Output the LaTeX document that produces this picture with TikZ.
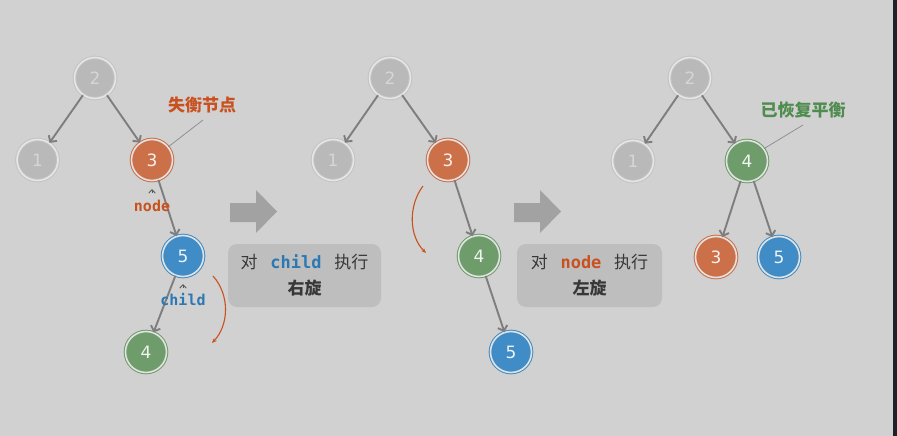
\documentclass[tikz,border=0pt]{standalone}
\usepackage{fontspec}
\setmainfont{DejaVu Sans}
\setmonofont{DejaVu Sans Mono}
\newfontfamily\cjk{Noto Sans CJK SC}
\usetikzlibrary{arrows.meta}
\definecolor{bg}{HTML}{D1D1D1}
\definecolor{darkstrip}{HTML}{1E2228}
\definecolor{ngray}{HTML}{B9B9B9}
\definecolor{ngrayt}{HTML}{D6D6D6}
\definecolor{norange}{HTML}{CC7049}
\definecolor{nblue}{HTML}{3F8CC6}
\definecolor{ngreen}{HTML}{6E9C6B}
\definecolor{ringc}{HTML}{E2E2E2}
\definecolor{edgec}{HTML}{7E7E7E}
\definecolor{torange}{HTML}{C9511F}
\definecolor{tblue}{HTML}{2B78B3}
\definecolor{tgreen}{HTML}{4F8C4F}
\definecolor{boxc}{HTML}{BEBEBE}
\definecolor{bigarrow}{HTML}{A2A2A2}
\definecolor{boxtext}{HTML}{383838}
\definecolor{callc}{HTML}{8A8A8A}
\tikzset{
  tn/.style={circle, minimum size=41pt, inner sep=0pt, line width=1pt,
    double distance=1.6pt, font=\fontsize{17}{17}\selectfont},
  gn/.style={tn, fill=ngray, draw=ngray!85!white, double=ngray!35!white, text=ngrayt},
  on/.style={tn, fill=norange, draw=norange, double=ringc, text=white!90!norange},
  bn/.style={tn, fill=nblue, draw=nblue, double=ringc, text=white!90!nblue},
  gr/.style={tn, fill=ngreen, draw=ngreen, double=ringc, text=white!90!ngreen},
  edge/.style={draw=edgec, line width=1.9pt, -{Straight Barb[length=4.5pt,width=10pt,line width=1.9pt]}},
  caret/.style={draw=edgec!70!black, line width=0.9pt, -{Straight Barb[length=3.5pt,width=6.5pt]}},
  callout/.style={draw=callc, line width=0.7pt},
  rot/.style={draw=torange, line width=1.1pt, -{Stealth[length=5pt,width=4pt]}},
  ptr/.style={font=\ttfamily\bfseries\fontsize{15}{15}\selectfont},
  bigarr/.style={fill=bigarrow},
  opbox/.style={fill=boxc, rounded corners=9pt, minimum width=153pt, minimum height=63pt,
    inner sep=0pt, align=center, text=boxtext, font=\cjk\fontsize{17}{26}\selectfont},
  tag/.style={font=\cjk\bfseries\fontsize{17}{17}\selectfont},
}
\newcommand{\gapsp}{\hspace{0.75em}}
\begin{document}
\begin{tikzpicture}[x=1pt,y=-1pt]
\fill[bg] (0,0) rectangle (897,436);
\fill[darkstrip] (893,0) rectangle (897,436);
\useasboundingbox (0,0) rectangle (897,436);

% ---------- panel 1 ----------
\node[gn] (a2) at (95,78) {2};
\node[gn] (a1) at (37.5,160) {1};
\node[on] (a3) at (152,160) {3};
\node[bn] (a5) at (183,256) {5};
\node[gr] (a4) at (146,352) {4};
\draw[edge] (a2) -- (a1);
\draw[edge] (a2) -- (a3);
\draw[edge] (a3) -- (a5);
\draw[edge] (a5) -- (a4);
\node[tag, text=torange] (t1) at (202,105) {失衡节点};
\coordinate (t1c) at (203,120);
\draw[callout] (t1c) -- (a3.39);
\node[ptr, text=torange] (pn) at (152,206) {node};
\coordinate (pnt) at (152,189);
\draw[caret] (152,192.5) -- (pnt);
\node[ptr, text=tblue] (pc) at (183,300) {child};
\coordinate (pct) at (183,284);
\draw[caret] (183,287.5) -- (pct);
\coordinate (r1s) at (213,276);
\coordinate (r1e) at (212,343);
\draw[rot] (r1s) .. controls (230,295) and (229,325) .. (r1e);

\fill[bigarr] (230,203) -- (256,203) -- (256,190) -- (277,211.5) -- (256,233) -- (256,222) -- (230,222) -- cycle;
\node[opbox] (b1) at (304.5,275.5) {对\gapsp{\ttfamily\bfseries\color{tblue}child}\gapsp 执行\\{\bfseries 右旋}};

% ---------- panel 2 ----------
\node[gn] (c2) at (390,78) {2};
\node[gn] (c1) at (333,160) {1};
\node[on] (c3) at (448,160) {3};
\node[gr] (c4) at (479,256) {4};
\node[bn] (c5) at (511,352) {5};
\draw[edge] (c2) -- (c1);
\draw[edge] (c2) -- (c3);
\draw[edge] (c3) -- (c4);
\draw[edge] (c4) -- (c5);
\coordinate (r2s) at (423,186);
\coordinate (r2e) at (426,253);
\draw[rot] (r2s) .. controls (408,206) and (409,236) .. (r2e);

\fill[bigarr] (514,203) -- (540,203) -- (540,190) -- (561,211.5) -- (540,233) -- (540,222) -- (514,222) -- cycle;
\node[opbox, minimum width=145pt] (b2) at (589.5,275.5) {对\gapsp{\ttfamily\bfseries\color{torange}node}\gapsp 执行\\{\bfseries 左旋}};

% ---------- panel 3 ----------
\node[gn] (e2) at (690,78) {2};
\node[gn] (e1) at (633,161) {1};
\node[gr] (e4) at (747,161) {4};
\node[on] (e3) at (716,257) {3};
\node[bn] (e5) at (779,257) {5};
\draw[edge] (e2) -- (e1);
\draw[edge] (e2) -- (e4);
\draw[edge] (e4) -- (e3);
\draw[edge] (e4) -- (e5);
\node[tag, text=tgreen] (t3) at (803,110) {已恢复平衡};
\coordinate (t3c) at (803,125);
\draw[callout] (t3c) -- (e4.36);
\end{tikzpicture}
\end{document}
